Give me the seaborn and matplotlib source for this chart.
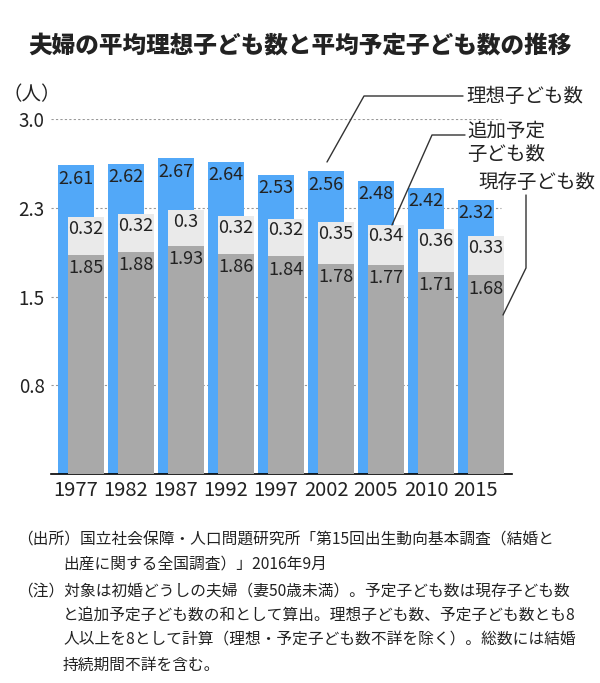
import numpy as np
import pandas as pd
import seaborn as sns
import matplotlib.pyplot as plt
from matplotlib.lines import Line2D

# data
years = ['1977', '1982', '1987', '1992', '1997', '2002', '2005', '2010', '2015']
ideal = [2.61, 2.62, 2.67, 2.64, 2.53, 2.56, 2.48, 2.42, 2.32]
existing = [1.85, 1.88, 1.93, 1.86, 1.84, 1.78, 1.77, 1.71, 1.68]
additional = [0.32, 0.32, 0.3, 0.32, 0.32, 0.35, 0.34, 0.36, 0.33]
ytick_vals = [0.75, 1.5, 2.25, 3.0]
ytick_labels = ['0.8', '1.5', '2.3', '3.0']

title = '夫婦の平均理想子ども数と平均予定子ども数の推移'
notes = [
    ('（出所）国立社会保障・人口問題研究所「第15回出生動向基本調査（結婚と', 17, 540),
    ('出産に関する全国調査）」2016年9月', 63, 564),
    ('（注）対象は初婚どうしの夫婦（妻50歳未満）。予定子ども数は現存子ども数', 17, 591),
    ('と追加予定子ども数の和として算出。理想子ども数、予定子ども数とも8', 63, 615),
    ('人以上を8として計算（理想・予定子ども数不詳を除く）。総数には結婚', 63, 640),
    ('持続期間不詳を含む。', 63, 665),
]

BLUE = '#52a8f8'
GRAY = '#a9a9a9'
LIGHT = '#eaeaea'
TXT = '#222222'

sns.set_theme(style='white')
plt.rcParams['font.family'] = ['Noto Sans CJK JP', 'DejaVu Sans']

W, H = 600, 683
fig = plt.figure(figsize=(W / 100, H / 100), dpi=100)


def fx(px):
    return px / W


def fy(py):
    return 1 - py / H


ax = fig.add_axes([fx(51), fy(474), fx(512 - 51), (474 - 119.3) / H])

df = pd.DataFrame({'year': years, 'ideal': ideal,
                   'existing': existing, 'additional': additional})

sns.barplot(data=df, x='year', y='ideal', color=BLUE, saturation=1,
            width=0.72, ax=ax, zorder=2, edgecolor='none', linewidth=0)

pos = np.arange(len(years))
ax.bar(pos + 0.2, df['existing'], width=0.72, color=GRAY, zorder=3,
       edgecolor='none', linewidth=0)
ax.bar(pos + 0.2, df['additional'], bottom=df['existing'], width=0.72,
       color=LIGHT, zorder=3, edgecolor='none', linewidth=0)

# value labels
for i in pos:
    ax.annotate(f'{ideal[i]:g}', (i, ideal[i]), xytext=(0, -9.5),
                textcoords='offset points', ha='center', va='center',
                fontsize=13, color=TXT, zorder=5)
    ax.annotate(f'{existing[i]:g}', (i + 0.2, existing[i]), xytext=(0, -9.5),
                textcoords='offset points', ha='center', va='center',
                fontsize=13, color=TXT, zorder=5)
    ax.annotate(f'{additional[i]:g}', (i + 0.2, existing[i] + additional[i]),
                xytext=(0, -8.5), textcoords='offset points', ha='center',
                va='center', fontsize=13, color=TXT, zorder=5)

ax.hlines(ytick_vals, -0.5, 8.5, colors='#999999', linestyles=(0, (2, 2)),
          lw=0.8, zorder=1)

ax.set_xlim(-0.5, 8.72)
ax.set_ylim(0, 3.0)
ax.set_yticks(ytick_vals)
ax.set_yticklabels(ytick_labels, fontsize=13.5, color=TXT)
ax.set_xticks(pos)
ax.set_xticklabels(years, fontsize=14.5, color=TXT)
ax.tick_params(axis='y', length=0, pad=4.5)
ax.tick_params(axis='x', length=0, pad=4)
ax.set_xlabel('')
ax.set_ylabel('')
for s in ['top', 'right', 'left']:
    ax.spines[s].set_visible(False)
ax.spines['bottom'].set_color('black')
ax.spines['bottom'].set_linewidth(1.2)

fig.text(0.5, fy(45), title, ha='center', va='center', fontsize=17,
         fontweight='heavy', color=TXT)
fig.text(fx(31.5), fy(95), '（人）', ha='center', va='center', fontsize=14,
         color=TXT)

# callouts
fig.text(fx(466), fy(96), '理想子ども数', ha='left', va='center',
         fontsize=14, color=TXT)
fig.text(fx(467), fy(143), '追加予定\n子ども数', ha='left', va='center',
         fontsize=14, color=TXT, linespacing=1.1)
fig.text(fx(478), fy(182), '現存子ども数', ha='left', va='center',
         fontsize=14, color=TXT)

leaders = [
    [(463, 96), (364, 96), (327, 162)],
    [(465, 135), (432, 135), (392, 225)],
    [(526, 195), (526, 268), (503, 315)],
]
for pts in leaders:
    xs = [fx(p[0]) for p in pts]
    ys = [fy(p[1]) for p in pts]
    fig.add_artist(Line2D(xs, ys, color='#333333', lw=1))

for txt, x, y in notes:
    fig.text(fx(x), fy(y), txt, ha='left', va='center', fontsize=11.3,
             color=TXT)

fig.savefig('out.png', dpi=100)
